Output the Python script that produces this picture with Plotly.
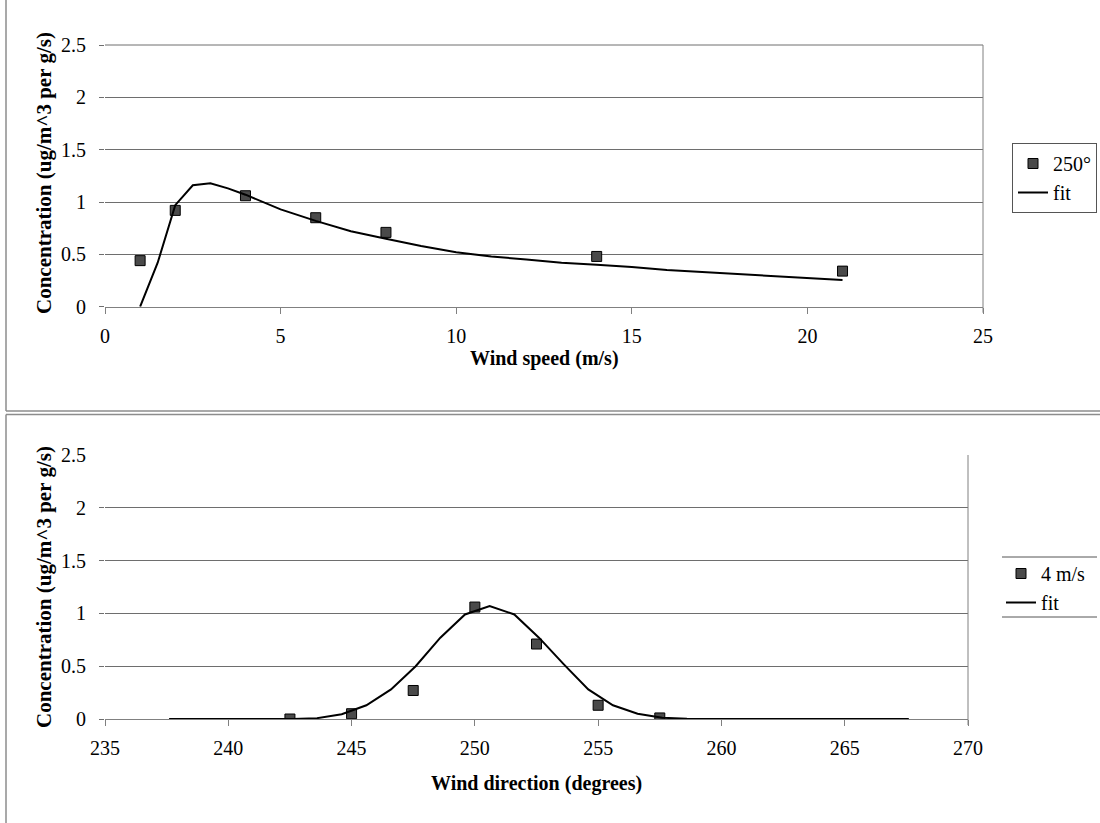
import plotly.graph_objects as go

W, H = 1100, 823

# ---- Data: top chart (wind speed) ----
speed_obs_x = [1, 2, 4, 6, 8, 14, 21]
speed_obs_y = [0.44, 0.92, 1.06, 0.85, 0.71, 0.48, 0.34]
speed_fit_x = [1, 1.5, 2, 2.5, 3, 3.5, 4, 5, 6, 7, 8, 9, 10, 11, 12, 13, 14, 15, 16, 17, 18, 19, 20, 21]
speed_fit_y = [0, 0.42, 0.97, 1.16, 1.18, 1.13, 1.07, 0.93, 0.82, 0.72, 0.65, 0.58, 0.52, 0.48,
               0.45, 0.42, 0.40, 0.38, 0.35, 0.33, 0.31, 0.29, 0.27, 0.255]

# ---- Data: bottom chart (wind direction) ----
dir_obs_x = [242.5, 245, 247.5, 250, 252.5, 255, 257.5]
dir_obs_y = [0.0, 0.05, 0.27, 1.06, 0.71, 0.13, 0.01]
dir_fit_x = [237.6, 238.6, 239.6, 240.6, 241.6, 242.6, 243.6, 244.6, 245.6, 246.6, 247.6,
             248.6, 249.6, 250.6, 251.6, 252.6, 253.6, 254.6, 255.6, 256.6, 257.6, 258.6,
             259.6, 260.6, 261.6, 262.6, 263.6, 264.6, 265.6, 266.6, 267.6]
dir_fit_y = [0, 0, 0, 0, 0, 0.0, 0.008, 0.045, 0.13, 0.28, 0.50,
             0.77, 0.99, 1.07, 0.99, 0.77, 0.52, 0.28, 0.13, 0.05, 0.012, 0.002,
             0, 0, 0, 0, 0, 0, 0, 0, 0]

y_ticks = [0, 0.5, 1, 1.5, 2, 2.5]
y_grid_bottom = [0, 0.5, 1, 1.5, 2]
speed_ticks = [0, 5, 10, 15, 20, 25]
dir_ticks = [235, 240, 245, 250, 255, 260, 265, 270]

FONT = "Liberation Serif, Times New Roman, serif"
GRID = "#6e6e6e"
AX = "#808080"
FRAME = "#8c8c8c"


def px(xp):
    return xp / W


def py(yp):
    return 1 - yp / H


marker = dict(symbol="square", size=10, color="#4a4a4a", line=dict(color="black", width=1))

fig = go.Figure()
fig.add_trace(go.Scatter(x=speed_obs_x, y=speed_obs_y, mode="markers", name="250°",
                         marker=marker, xaxis="x", yaxis="y", legend="legend"))
fig.add_trace(go.Scatter(x=speed_fit_x, y=speed_fit_y, mode="lines", name="fit",
                         line=dict(color="black", width=2), xaxis="x", yaxis="y", legend="legend"))
fig.add_trace(go.Scatter(x=dir_obs_x, y=dir_obs_y, mode="markers", name="4 m/s",
                         marker=marker, xaxis="x2", yaxis="y2", legend="legend2"))
fig.add_trace(go.Scatter(x=dir_fit_x, y=dir_fit_y, mode="lines", name="fit",
                         line=dict(color="black", width=2), xaxis="x2", yaxis="y2", legend="legend2"))
# dummy trace to activate yaxis3 (grid only)
fig.add_trace(go.Scatter(x=[], y=[], xaxis="x2", yaxis="y3", showlegend=False, hoverinfo="skip"))

tickfont = dict(family=FONT, size=20, color="black")

xcommon = dict(showgrid=False, zeroline=False, showline=True, linecolor=AX, linewidth=1,
               ticks="outside", ticklen=6, tickcolor=AX, tickfont=tickfont,
               ticklabelstandoff=5, fixedrange=True, automargin=False)
ycommon = dict(zeroline=False, showline=False, tickfont=tickfont, fixedrange=True, automargin=False)

fig.update_layout(
    width=W, height=H,
    margin=dict(l=0, r=0, t=0, b=0, autoexpand=False),
    paper_bgcolor="white", plot_bgcolor="white",
    font=dict(family=FONT, size=20, color="black"),
    xaxis=dict(domain=[px(105), px(983)], range=[0, 25], tickvals=speed_ticks,
               anchor="y", **xcommon),
    yaxis=dict(domain=[py(306.7), py(45)], range=[0, 2.5], tickvals=y_ticks,
               showgrid=True, gridcolor=GRID, gridwidth=1,
               ticks="outside", ticklen=5, tickcolor=GRID, ticklabelstandoff=9,
               anchor="x", **ycommon),
    xaxis2=dict(domain=[px(105), px(968)], range=[235, 270], tickvals=dir_ticks,
                anchor="y2", **xcommon),
    yaxis2=dict(domain=[py(719), py(455)], range=[0, 2.5], tickvals=y_ticks,
                showgrid=False, ticks="outside", ticklen=5, tickcolor="rgba(0,0,0,0)",
                ticklabelstandoff=9, anchor="x2", **ycommon),
    yaxis3=dict(overlaying="y2", anchor="x2", range=[0, 2.5], tickvals=y_grid_bottom,
                showgrid=True, gridcolor=GRID, gridwidth=1, showticklabels=False,
                ticks="outside", ticklen=5, tickcolor=GRID, zeroline=False,
                fixedrange=True, automargin=False),
    legend=dict(x=px(1012), y=py(143), xanchor="left", yanchor="top",
                bordercolor="#555555", borderwidth=1, bgcolor="white",
                font=dict(family=FONT, size=20, color="black"),
                itemwidth=30, tracegroupgap=0),
    legend2=dict(x=px(1001), y=py(554), xanchor="left", yanchor="top",
                 borderwidth=0, bgcolor="rgba(0,0,0,0)",
                 font=dict(family=FONT, size=20, color="black"),
                 itemwidth=30, tracegroupgap=0),
    showlegend=True,
)

title_font = dict(family=FONT, size=20, color="black")
ytitle_font = dict(family=FONT, size=21, color="black")
annotations = [
    dict(text="<b>Wind speed (m/s)</b>", x=0.5, y=py(358), xref="x domain", yref="paper",
         showarrow=False, font=title_font, xanchor="center", yanchor="middle"),
    dict(text="<b>Wind direction (degrees)</b>", x=0.5, y=py(783), xref="x2 domain", yref="paper",
         showarrow=False, font=title_font, xanchor="center", yanchor="middle"),
    dict(text="<b>Concentration (ug/m^3 per g/s)</b>", x=px(44), y=py(173), xref="paper", yref="paper",
         showarrow=False, font=ytitle_font, textangle=-90, xanchor="center", yanchor="middle"),
    dict(text="<b>Concentration (ug/m^3 per g/s)</b>", x=px(44), y=py(587), xref="paper", yref="paper",
         showarrow=False, font=ytitle_font, textangle=-90, xanchor="center", yanchor="middle"),
]
fig.update_layout(annotations=annotations)

shapes = [
    # top border of the upper plot area (coincides with the 2.5 gridline)
    dict(type="line", xref="x domain", yref="y domain", x0=0, x1=1, y0=1, y1=1,
         line=dict(color=GRID, width=1)),
    # right border of plot areas (extending to the tick below the axis)
    dict(type="line", xref="x domain", yref="y domain", x0=1, x1=1, y0=-0.023, y1=1,
         line=dict(color=AX, width=1)),
    dict(type="line", xref="x2 domain", yref="y2 domain", x0=1, x1=1, y0=-0.023, y1=1,
         line=dict(color=AX, width=1)),
    # panel frames
    dict(type="line", xref="paper", yref="paper", x0=px(6), x1=px(6), y0=py(411), y1=1,
         line=dict(color=FRAME, width=1.5)),
    dict(type="line", xref="paper", yref="paper", x0=px(6), x1=1, y0=py(411), y1=py(411),
         line=dict(color=FRAME, width=1.5)),
    dict(type="line", xref="paper", yref="paper", x0=px(6), x1=1, y0=py(414.5), y1=py(414.5),
         line=dict(color=FRAME, width=1.5)),
    dict(type="line", xref="paper", yref="paper", x0=px(6), x1=px(6), y0=0, y1=py(414.5),
         line=dict(color=FRAME, width=1.5)),
    # bottom legend rules
    dict(type="line", xref="paper", yref="paper", x0=px(1002), x1=px(1097), y0=py(557), y1=py(557),
         line=dict(color="#555555", width=1)),
    dict(type="line", xref="paper", yref="paper", x0=px(1002), x1=px(1097), y0=py(617), y1=py(617),
         line=dict(color="#555555", width=1)),
]
fig.update_layout(shapes=shapes)

fig.write_html("out.html", config={"displayModeBar": False},
               post_script="document.body.style.margin='0';document.body.style.overflow='hidden';")
